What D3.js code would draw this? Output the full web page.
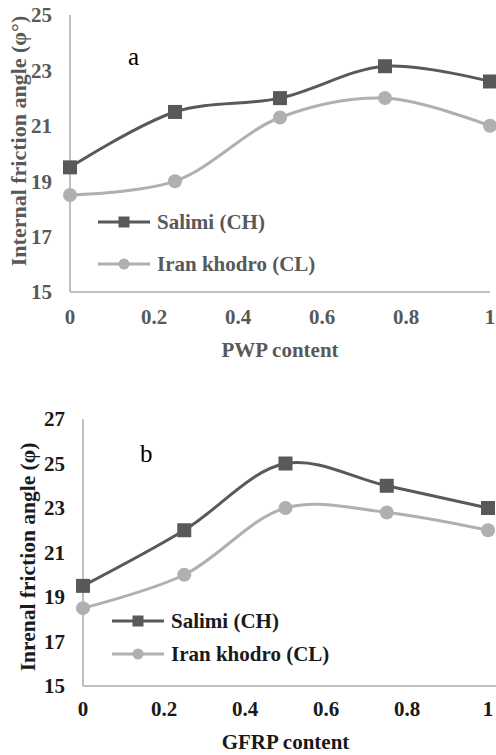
<!DOCTYPE html>
<html>
<head>
<meta charset="utf-8">
<script src="https://cdn.jsdelivr.net/npm/d3@7"></script>
<style>
  body { margin: 0; background: #fff; }
  svg text { font-family: "Liberation Serif", "Times New Roman", serif; }
</style>
</head>
<body>
<div id="chart"></div>
<script>
// valeurs
const content = [0, 0.25, 0.5, 0.75, 1];
const xTicks = [0, 0.2, 0.4, 0.6, 0.8, 1];

const salimiPWP = [19.5, 21.5, 22, 23.15, 22.6];
const iranPWP = [18.5, 19, 21.3, 22, 21];
const yTicksA = [15, 17, 19, 21, 23, 25];

const salimiGFRP = [19.5, 22, 25, 24, 23];
const iranGFRP = [18.5, 20, 23, 22.8, 22];
const yTicksB = [15, 17, 19, 21, 23, 25, 27];

const seriesNames = ["Salimi (CH)", "Iran khodro (CL)"];
const colors = ["#595959", "#b0b0b0"];

const svg = d3.select("#chart").append("svg")
    .attr("width", 496)
    .attr("height", 755);

function drawPanel(opt) {
    const x = d3.scaleLinear().domain([0, 1]).range([opt.left, opt.right]);
    const y = d3.scaleLinear().domain([opt.yTicks[0], opt.yTicks[opt.yTicks.length - 1]])
        .range([opt.bottom, opt.top]);
    const g = svg.append("g");

    // axes (juste les lignes, pas de graduations)
    g.append("line")
        .attr("x1", x(0)).attr("x2", x(0))
        .attr("y1", y.range()[1]).attr("y2", y.range()[0])
        .attr("stroke", "#bfbfbf").attr("stroke-width", 2);
    g.append("line")
        .attr("x1", x(0)).attr("x2", opt.axisEnd)
        .attr("y1", y.range()[0]).attr("y2", y.range()[0])
        .attr("stroke", "#bfbfbf").attr("stroke-width", 2);

    g.selectAll(".ytick").data(opt.yTicks).enter()
        .append("text")
        .attr("x", x(0) - 18)
        .attr("y", d => y(d))
        .attr("dy", "0.35em")
        .attr("text-anchor", "end")
        .attr("font-size", 21).attr("font-weight", "bold")
        .attr("fill", opt.textColor)
        .text(d => d);

    g.selectAll(".xtick").data(xTicks).enter()
        .append("text")
        .attr("x", d => x(d))
        .attr("y", opt.xTickY)
        .attr("text-anchor", "middle")
        .attr("font-size", 21).attr("font-weight", "bold")
        .attr("fill", opt.textColor)
        .text(d => d);

    g.append("text")
        .attr("x", (x(0) + x(1)) / 2)
        .attr("y", opt.xTitleY)
        .attr("text-anchor", "middle")
        .attr("font-size", 21).attr("font-weight", "bold")
        .attr("fill", opt.textColor)
        .text(opt.xTitle);

    g.append("text")
        .attr("transform", "translate(" + opt.yTitleX + "," + opt.yTitleCy + ") rotate(-90)")
        .attr("text-anchor", "middle")
        .attr("font-size", opt.yTitleSize).attr("font-weight", "bold")
        .attr("fill", opt.textColor)
        .text(opt.yTitle);

    g.append("text")
        .attr("x", opt.tag[0]).attr("y", opt.tag[1])
        .attr("font-size", 25)
        .attr("fill", "#000")
        .text(opt.tagText);

    const line = d3.line()
        .x((d, i) => x(content[i]))
        .y(d => y(d))
        .curve(d3.curveCatmullRom.alpha(0.5));

    // série claire dessinée en premier, foncée par-dessus
    [1, 0].forEach(k => {
        const vals = opt.series[k];
        g.append("path")
            .datum(vals)
            .attr("fill", "none")
            .attr("stroke", colors[k])
            .attr("stroke-width", 3)
            .attr("d", line);
        if (k === 0) {
            g.selectAll(".sq" + opt.id).data(vals).enter()
                .append("rect")
                .attr("x", (d, i) => x(content[i]) - 7)
                .attr("y", d => y(d) - 7)
                .attr("width", 14).attr("height", 14)
                .attr("fill", colors[0]);
        } else {
            g.selectAll(".ci" + opt.id).data(vals).enter()
                .append("circle")
                .attr("cx", (d, i) => x(content[i]))
                .attr("cy", d => y(d))
                .attr("r", 7)
                .attr("fill", colors[1]);
        }
    });

    // légende
    seriesNames.forEach((name, k) => {
        const ly = opt.legend[1] + k * opt.legendGap;
        const lx = opt.legend[0];
        g.append("line")
            .attr("x1", lx).attr("x2", lx + 52)
            .attr("y1", ly).attr("y2", ly)
            .attr("stroke", colors[k]).attr("stroke-width", 3);
        if (k === 0) {
            g.append("rect")
                .attr("x", lx + 26 - 5.5).attr("y", ly - 5.5)
                .attr("width", 11).attr("height", 11)
                .attr("fill", colors[0]);
        } else {
            g.append("circle")
                .attr("cx", lx + 26).attr("cy", ly)
                .attr("r", 5.5)
                .attr("fill", colors[1]);
        }
        g.append("text")
            .attr("x", lx + 59).attr("y", ly)
            .attr("dy", "0.35em")
            .attr("font-size", 21).attr("font-weight", "bold")
            .attr("fill", opt.textColor)
            .text(name);
    });
}

drawPanel({
    id: "a", left: 70, right: 490, top: 15, bottom: 292, axisEnd: 490,
    yTicks: yTicksA, series: [salimiPWP, iranPWP],
    textColor: "#595959", xTickY: 324, xTitleY: 357, xTitle: "PWP content",
    yTitle: "Internal friction angle (φ°)", yTitleX: 26, yTitleCy: 141, yTitleSize: 22,
    tag: [128, 65], tagText: "a",
    legend: [98, 222], legendGap: 42
});

drawPanel({
    id: "b", left: 83, right: 488, top: 419, bottom: 686, axisEnd: 496,
    yTicks: yTicksB, series: [salimiGFRP, iranGFRP],
    textColor: "#1a1a1a", xTickY: 716, xTitleY: 749, xTitle: "GFRP content",
    yTitle: "Inrenal friction angle (φ)", yTitleX: 35, yTitleCy: 557, yTitleSize: 21.5,
    tag: [140, 462], tagText: "b",
    legend: [112, 621], legendGap: 33
});
</script>
</body>
</html>
